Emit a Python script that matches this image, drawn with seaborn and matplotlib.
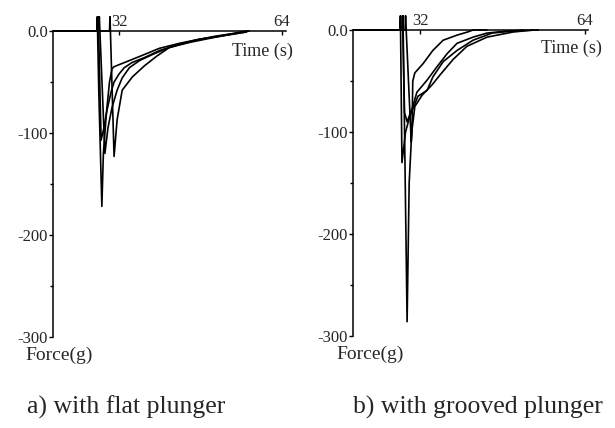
import pandas as pd
import matplotlib
matplotlib.use('Agg')
import matplotlib.pyplot as plt
import seaborn as sns

sns.set_style('white')
plt.rcParams['font.family'] = ['Liberation Serif', 'DejaVu Serif']

# a) flat plunger, four runs (time in s, force in g)
flat_t1 = [19, 27.6, 27.7, 28.0, 28.6, 28.9, 29.5, 30.1, 30.6, 31.0, 33.0, 36.0, 39.9, 43.9, 47.8, 51.8, 56.7, 57.5]
flat_f1 = [0, 0, 14, -60, -172, -120, -80, -50, -37, -35, -31, -25, -17, -12, -8, -5, -1, 0]
flat_t2 = [19, 27.8, 27.9, 28.45, 29.0, 29.6, 30.4, 31.0, 32.0, 33.0, 34.5, 37.0, 40.0, 44.0, 48.0, 52.0, 57.0]
flat_f2 = [0, 0, 14, -107, -95, -78, -60, -50, -42, -36, -31, -26, -19, -13, -8, -5, -1]
flat_t3 = [19, 28.0, 28.1, 29.2, 29.8, 30.6, 31.6, 32.6, 34.0, 36.0, 39.0, 42.0, 46.0, 50.0, 54.0, 57.0]
flat_f3 = [0, 0, 14, -120, -95, -75, -58, -46, -36, -29, -22, -16, -11, -7, -3, 0]
flat_t4 = [19, 30.1, 30.2, 31.0, 31.6, 32.6, 34.6, 37.0, 39.3, 41.9, 44.0, 47.0, 51.0, 55.0, 57.5]
flat_f4 = [0, 0, 14, -123, -87, -58, -45, -34, -25, -16, -13, -9, -5, -2, 0]

# b) grooved plunger, four runs
groove_t1 = [19, 28.6, 28.7, 29.5, 29.9, 30.4, 31.0, 32.4, 34.3, 35.9, 38.4, 41.1, 45.0, 50.0, 54.0]
groove_f1 = [0, 0, 14, -286, -150, -100, -75, -64, -54, -44, -29, -16, -7, -2, 0]
groove_t2 = [19, 29.1, 29.2, 30.3, 30.45, 30.6, 31.0, 32.6, 34.5, 36.5, 39.2, 41.2, 42.3, 45.0]
groove_f2 = [0, 0, 14, -110, -100, -50, -42, -33, -20, -10, -5, -2, 0, 0]
groove_t3 = [19, 28.5, 28.6, 29.0, 29.5, 30.6, 31.4, 33.4, 35.3, 37.3, 39.2, 42.3, 45.0, 48.9, 55.0]
groove_f3 = [0, 0, 14, -81, -90, -75, -61, -49, -36, -23, -13, -7, -3, -1, 0]
groove_t4 = [19, 28.1, 28.2, 28.5, 29.2, 30.0, 31.6, 33.4, 34.5, 36.5, 39.2, 42.3, 46.0, 52.0]
groove_f4 = [0, 0, 14, -130, -100, -85, -65, -59, -46, -31, -20, -10, -3, 0]

time_ticks = [32, 64]
time_labels = ['32', '64']
force_ticks = [0, -100, -200, -300]
force_labels = ['0.0', '-100', '-200', '-300']
force_minor = [-50, -150, -250]


def make_df(curves):
    frames = []
    for i, (t, f) in enumerate(curves):
        frames.append(pd.DataFrame({'t': t, 'F': f, 'run': i}))
    return pd.concat(frames, ignore_index=True)


flat = make_df([(flat_t1, flat_f1), (flat_t2, flat_f2), (flat_t3, flat_f3), (flat_t4, flat_f4)])
groove = make_df([(groove_t1, groove_f1), (groove_t2, groove_f2),
                  (groove_t3, groove_f3), (groove_t4, groove_f4)])

fig = plt.figure(figsize=(6.15, 4.28), dpi=100)
ax_a = fig.add_axes([0.0862, 0.2126, 0.3789, 0.7531])
ax_b = fig.add_axes([0.574, 0.215, 0.382, 0.753])


def style(ax, xmax, time_xy, force_xy):
    ax.set_xlim(19, xmax)
    ax.set_ylim(-300, 16)
    ax.spines['right'].set_visible(False)
    ax.spines['bottom'].set_visible(False)
    ax.spines['top'].set_position(('data', 0))
    ax.spines['left'].set_bounds(-300, 0)
    for s in ['top', 'left']:
        ax.spines[s].set_color('black')
        ax.spines[s].set_linewidth(1.1)
    ax.xaxis.set_ticks_position('top')
    ax.set_xticks(time_ticks)
    ax.set_xticklabels(time_labels)
    ax.tick_params(axis='x', direction='in', length=3, width=1, pad=1, labelsize=12, color='black')
    ax.set_yticks(force_ticks)
    ax.set_yticklabels(force_labels)
    ax.set_yticks(force_minor, minor=True)
    ax.tick_params(axis='y', which='major', left=True, direction='out', length=3, width=1, pad=0.5,
                   labelsize=12, color='black')
    ax.tick_params(axis='y', which='minor', left=True, direction='out', length=2.5, width=1, color='black')
    ax.set_xlabel('')
    ax.set_ylabel('')
    ax.text(time_xy[0], time_xy[1], 'Time (s)', ha='right', va='center', fontsize=13, clip_on=False)
    ax.text(force_xy[0], force_xy[1], 'Force(g)', ha='left', va='center', fontsize=14, clip_on=False)


sns.lineplot(data=flat, x='t', y='F', units='run', estimator=None, sort=False,
             color='black', lw=1.2, ax=ax_a)
sns.lineplot(data=groove, x='t', y='F', units='run', estimator=None, sort=False,
             color='black', lw=1.2, ax=ax_b)

style(ax_a, 64.8, (66.2, -20), (13.6, -318))
style(ax_b, 64.6, (67.3, -17.6), (15.7, -318))

fig.text(0.044, 0.049, 'a) with flat plunger', fontsize=18.5, va='center')
fig.text(0.574, 0.049, 'b) with grooved plunger', fontsize=18.5, va='center')

fig.savefig('out.png', dpi=100)
